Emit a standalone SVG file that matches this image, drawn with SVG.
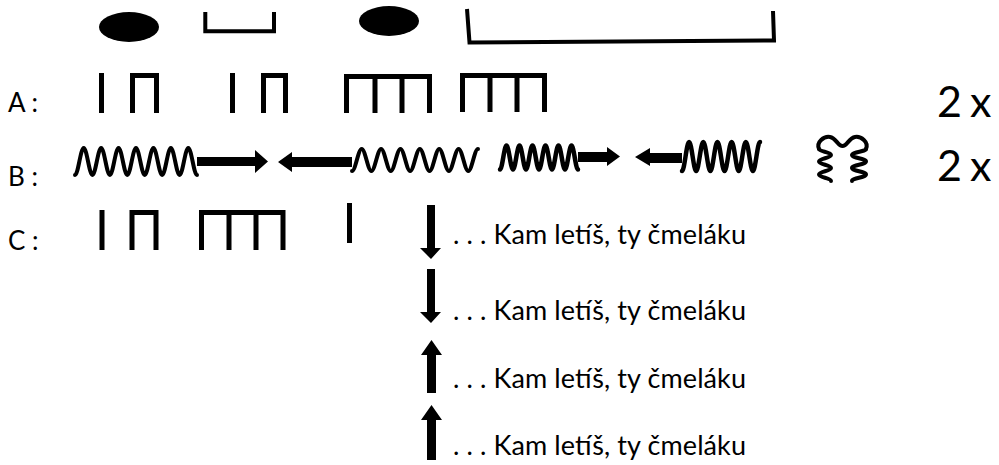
<svg xmlns="http://www.w3.org/2000/svg" width="999" height="465" viewBox="0 0 999 465">
<style>
.t{font-family:Lato,"Liberation Sans",sans-serif;fill:#000}
.lbl{font-size:26px}
.big{font-size:43px}
.lyr{font-size:27px}
.s{fill:none;stroke:#000;stroke-width:5;stroke-linejoin:miter;stroke-linecap:butt}
.sp{fill:none;stroke:#000;stroke-width:4;stroke-linecap:round;stroke-linejoin:round}
.sp2{stroke-width:4.5}
.f{fill:#000}
</style>
<rect width="999" height="465" fill="#fff"/>
<g id="top-row">
<ellipse class="f" cx="129" cy="27" rx="30" ry="15"/>
<path class="s" style="stroke-width:4" d="M205.3,12 V31.3 H274 V12"/>
<ellipse class="f" cx="389" cy="21" rx="30" ry="15"/>
<path class="s" style="stroke-width:4" d="M467,9 L469.5,42.5 L774,40.5 L773,11"/>
</g>
<g id="row-a">
<text class="t lbl" x="8" y="112">A :</text>
<path class="s" d="M101.5,73 V113"/>
<path class="s" d="M132.5,113 V75.5 H156.5 V113"/>
<path class="s" d="M232.5,73 V113"/>
<path class="s" d="M263.5,113 V75.5 H285.5 V113"/>
<path class="s" d="M346.5,113 V76.5 H429.5 V113 M375,76.5 V113 M402,76.5 V113"/>
<path class="s" d="M462.5,112 V75.5 H544.5 V112 M490,75.5 V112 M517,75.5 V112"/>
<text class="t big" y="117"><tspan x="937">2</tspan><tspan x="970">x</tspan></text>
</g>
<g id="row-b">
<text class="t lbl" x="8" y="186">B :</text>
<path class="sp" d="M75,175 C78.14,175 80.57,148 83.71,148 S89.29,175 92.43,175 S98,148 101.14,148 S106.72,175 109.86,175 S115.43,148 118.57,148 S124.15,175 127.29,175 S132.86,148 136,148 S141.57,175 144.71,175 S150.29,148 153.43,148 S159,175 162.14,175 S167.72,148 170.86,148 S176.43,175 179.57,175 S185.15,148 188.29,148 S193.86,175 197,175"/>
<polygon class="f" points="197,157 255,157 255,150 268,161.5 255,173 255,166 197,166"/>
<polygon class="f" points="278,162 292,152 292,157 352,157 352,167 292,167 292,172"/>
<path class="sp" d="M352,171 C355.49,171 358.2,149 361.69,149 S367.89,171 371.38,171 S377.59,149 381.08,149 S387.28,171 390.77,171 S396.97,149 400.46,149 S406.66,171 410.15,171 S416.36,149 419.85,149 S426.05,171 429.54,171 S435.74,149 439.23,149 S445.43,171 448.92,171 S455.13,149 458.62,149 S464.82,171 468.31,171 S474.51,149 478,149"/>
<path class="sp sp2" d="M500,169.5 C502.34,169.5 504.16,145.5 506.5,145.5 S510.66,169.5 513,169.5 S517.16,145.5 519.5,145.5 S523.66,169.5 526,169.5 S530.16,145.5 532.5,145.5 S536.66,169.5 539,169.5 S543.16,145.5 545.5,145.5 S549.66,169.5 552,169.5 S556.16,145.5 558.5,145.5 S562.66,169.5 565,169.5 S569.16,145.5 571.5,145.5 S575.66,169.5 578,169.5"/>
<polygon class="f" points="578,152 607,152 607,147 620,156.5 607,166 607,162 578,162"/>
<polygon class="f" points="635,157 650,148 650,153 682,153 682,163 650,163 650,166"/>
<path class="sp sp2" d="M682,171 C684.55,171 686.54,142 689.09,142 S693.63,171 696.18,171 S700.72,142 703.27,142 S707.81,171 710.36,171 S714.9,142 717.45,142 S722,171 724.55,171 S729.09,142 731.64,142 S736.18,171 738.73,171 S743.27,142 745.82,142 S750.36,171 752.91,171 S757.45,142 760,142"/>
<g id="spring-icon">
<path class="sp" d="M819,149 C816,142 824,136 830,137 C836,138 838,146 842.5,146 C847,146 849,138 855,137 C861,136 869,142 866,149"/>
<path class="sp" d="M819,149 C819,151.5 831,152 831,155 C831,158 819,158.5 819,161.5 C819,164.5 831,165 831,168 C831,171 819,171.5 819,174.5 C819,177.5 831,178 831,181"/>
<path class="sp" d="M866,149 C866,151.5 852,152 852,155 C852,158 866,158.5 866,161.5 C866,164.5 852,165 852,168 C852,171 866,171.5 866,174.5 C866,177.5 852,178 852,181"/>
</g>
<text class="t big" y="181"><tspan x="937">2</tspan><tspan x="970">x</tspan></text>
</g>
<g id="row-c">
<text class="t lbl" x="8" y="250">C :</text>
<path class="s" d="M102,210 V250"/>
<path class="s" d="M132,250 V212.5 H156 V250"/>
<path class="s" d="M201.5,250 V212.5 H283 V250 M229,212.5 V250 M256,212.5 V250"/>
<path class="s" d="M349.5,203 V243"/>
</g>
<g id="connectors">
<polygon class="f" points="427,205 435,205 435,248 441,248 431,259 420,248 427,248"/>
<polygon class="f" points="427,269 435,269 435,312 441,312 431,323 420,312 427,312"/>
<polygon class="f" points="431.5,340 442,355 436,355 436,393 427,393 427,355 421,355"/>
<polygon class="f" points="431.5,405 442,420 436,420 436,460 427,460 427,420 421,420"/>
</g>
<g id="lyrics">
<text class="t lyr" x="453" y="244" textLength="293">. . . Kam letíš, ty čmeláku</text>
<text class="t lyr" x="453" y="320" textLength="293">. . . Kam letíš, ty čmeláku</text>
<text class="t lyr" x="453" y="388" textLength="293">. . . Kam letíš, ty čmeláku</text>
<text class="t lyr" x="453" y="455" textLength="293">. . . Kam letíš, ty čmeláku</text>
</g>
</svg>
